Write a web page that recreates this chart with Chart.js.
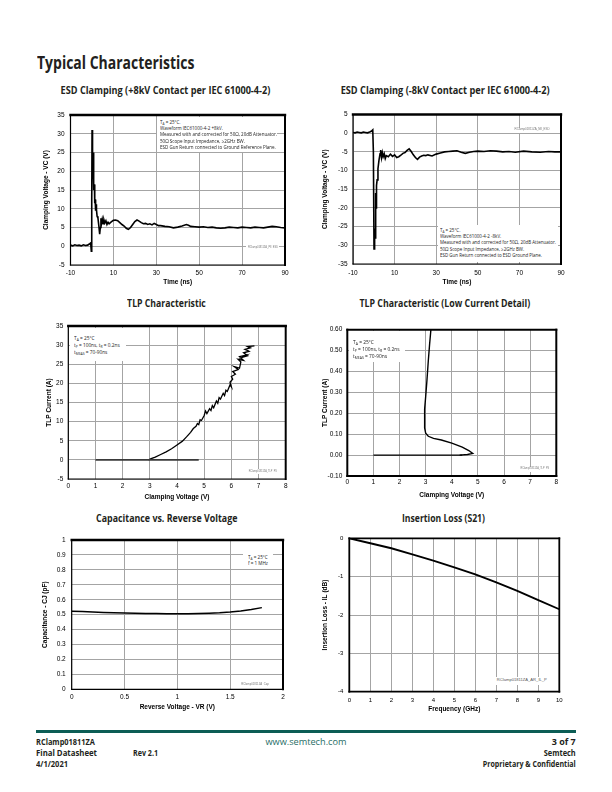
<!DOCTYPE html>
<html><head><meta charset="utf-8">
<script src="https://cdn.jsdelivr.net/npm/chart.js@4.4.0/dist/chart.umd.min.js"></script>
<style>
html,body{margin:0;padding:0;background:#fff;}
#page{position:relative;width:612px;height:792px;overflow:hidden;background:#fff;}
.cw{position:absolute;}
.t{position:absolute;white-space:nowrap;color:#231f20;}
.t sub{vertical-align:-0.3em;line-height:0;}
.box{position:absolute;background:#fff;}
</style></head><body><div id="page"></div>
<script>
// ---------------- DATA ----------------
// ESD clamping +8kV : time (ns) / clamping voltage (V)
const esdPosT = [-10,-9,-8,-7,-6,-5,-4,-3,-2,-1.2,-0.6,-0.3,-0.1,0.05,0.2,0.35,0.5,0.65,0.8,0.95,1.15,1.3,1.5,1.7,1.9,2.1,2.4,2.8,3.2,3.6,3.9,4.2,4.5,4.8,5.2,5.6,6,6.5,7,7.5,8,9,10,11,12,13,14,15,16,17,18,19,20,21,22,23,24,25,26,27,28,29,30,31,32,34,36,38,40,42,44,45,46,48,50,52,54,56,58,60,62,64,66,68,70,72,74,76,78,80,82,84,86,88,90];
const esdPosV = [0.3,0.1,0.4,0.2,0.3,0.1,0.4,0.2,0.3,
  0.6,0.9,-1.3,12,31,22,18,25,17,21,15,
  16.5,11.5,12.5,9.5,11.2,9.8,8,7.5,5.5,3.2,5,7.5,6.2,7.2,6,7,
  6.2,6.8,5.8,6.4,6,
  6.5,6.9,7,6.8,6.3,5.8,5.4,4.8,4.5,5,5.8,6.6,7,6.7,6.3,6,6.1,5.8,6,5.7,6.1,5.8,5.5,5.5,
  5.3,5.2,4.9,5.1,5.4,5.8,
  5.6,5.3,
  5.2,5.1,5.2,5.0,5.1,4.9,4.8,4.9,5.1,5.0,4.9,5.1,5.0,4.9,5.1,5.0,4.9,5.1,5.3,5.2,5.0,4.9];
// ESD clamping -8kV
const esdNegT = [-10,-9,-8,-7,-6,-5,-4,-3,-2,-1.2,-0.5,-0.2,0.1,0.3,0.5,0.7,0.9,1.1,1.3,1.6,2.0,2.5,3.0,3.3,3.7,4.1,4.5,5.0,5.5,6,7,8,9,10,11,12,13,14,15,16,17,18,19,20,21,22,23,24,25,26,28,30,32,34,36,38,40,42,44,46,48,50,53,56,59,62,65,68,72,76,80,84,87,90];
const esdNegV = [0.2,0.1,0.3,0.2,0.1,0.3,0.2,0.1,0.3,
  0.5,0.9,-5,-31,-27,-25.5,-28,-16,-20,-14,-12.5,-9.5,-7.2,-5.5,-4.5,-6.5,-5.2,-6.3,-5.5,-6.8,
  -6,-6.3,-5.6,-6.2,-5.8,-6.5,-6.3,-5.9,-5.4,-5.2,-4.6,-4.2,-4.9,-5.8,-6.5,-7,-6.4,-6.1,-5.9,-6,-5.8,
  -6.1,-5.6,-5.3,-5,-4.9,-4.8,-4.7,-5.1,-5.4,-5.1,-4.9,-4.8,
  -4.9,-4.7,-4.8,-5,-4.9,-5.1,
  -4.8,-5,-5.1,-4.9,-5,-5];
// TLP characteristic : clamping voltage (V) / TLP current (A)
const tlpV = [2.95,3.05,3.2,3.4,3.6,3.8,4.0,4.2,4.35,4.5,4.6,4.7,4.75,4.8,4.85,4.9,5.0,5.05,5.1,5.2,5.25,5.3,5.35,5.45,5.5,5.55,5.6,5.7,5.75,5.8,5.85,5.95,6.0,5.95,6.05,6.0,6.15,6.05,6.25,6.1,6.3,6.35,6.25,6.45,6.3,6.55,6.4,6.6,6.45,6.65,6.5,6.7,6.6,6.85];
const tlpI = [0,0.3,0.7,1.4,2.1,2.9,3.9,4.9,6.0,7.2,8.2,8.8,9.5,9.2,10.5,10.3,11.6,12.8,12.1,13.4,12.9,14.2,13.6,15.4,14.8,16.3,15.9,17.4,16.8,18.2,17.9,19.6,19.1,20.3,21.1,21.8,22.4,23.1,23.6,24.4,24.0,25.6,26.3,26.0,27.0,27.4,26.8,27.2,28.0,28.4,28.9,29.3,29.6,29.8];
const tlpLeakV = [1, 4.8];
const tlpLeakI = [0, 0];
// TLP low current detail
const tlpLowV = [4.3,4.6,4.8,4.65,4.4,4.0,3.6,3.3,3.1,3.0,2.96,2.95,2.97,3.0,3.05,3.1,3.15,3.2];
const tlpLowI = [0,0.003,0.008,0.022,0.038,0.057,0.072,0.08,0.09,0.105,0.13,0.16,0.22,0.28,0.36,0.45,0.53,0.60];
const tlpLowLeakV = [1, 4.4];
const tlpLowLeakI = [0, 0];
// Capacitance vs reverse voltage
const capV = [0,0.1,0.2,0.3,0.4,0.5,0.6,0.7,0.8,0.9,1.0,1.1,1.2,1.3,1.4,1.5,1.6,1.7,1.8];
const capC = [0.523,0.521,0.518,0.515,0.513,0.511,0.509,0.508,0.507,0.506,0.506,0.506,0.507,0.509,0.512,0.517,0.525,0.535,0.547];
// Insertion loss
const ilF  = [0,1,2,3,4,5,6,7,8,9,10];
const ilDb = [0,-0.13,-0.26,-0.42,-0.58,-0.76,-0.94,-1.15,-1.37,-1.61,-1.85];
// axis ranges / ticks
const timeAxis = {min:-10, max:90, step:20};
const esdPosAxis = {min:-5, max:35, step:5};
const esdNegAxis = {min:-35, max:5, step:5};
const tlpVAxis = {min:0, max:8, step:1};
const tlpIAxis = {min:-5, max:35, step:5};
const tlpLowIAxis = {min:-0.1, max:0.6, step:0.1};
const capVAxis = {min:0, max:2, step:0.5};
const capCAxis = {min:0, max:1, step:0.1};
const ilFAxis = {min:0, max:10, step:1};
const ilDbAxis = {min:-4, max:0, step:1};

// ---------------- RENDER ----------------
const page = document.getElementById('page');
const FONT = "'Liberation Sans', Arial, sans-serif";
const GRID = '#a4a4a4';
Chart.defaults.font.family = FONT;
Chart.defaults.color = '#000';
Chart.defaults.animation = false;

const frame = {
  id: 'frame',
  afterDraw(chart, args, o) {
    const {ctx, chartArea: a} = chart;
    ctx.save();
    ctx.strokeStyle = '#000';
    ctx.lineCap = 'square';
    const ln = (x1,y1,x2,y2,w) => { ctx.lineWidth = w; ctx.beginPath(); ctx.moveTo(x1,y1); ctx.lineTo(x2,y2); ctx.stroke(); };
    ln(a.left, a.bottom, a.right, a.bottom, o.b);
    ln(a.left, a.top, a.left, a.bottom, o.l);
    ln(a.left, a.top, a.right, a.top, o.t);
    ln(a.right, a.top, a.right, a.bottom, o.r);
    ctx.restore();
  }
};

function series(xs, ys, color, width) {
  return {data: xs.map((v,i) => ({x: v, y: ys[i]})), showLine: true, pointRadius: 0,
          borderColor: color, borderWidth: width, fill: false, tension: 0};
}

function makeChart(c) {
  const bx = c.box, p = c.plot;
  const div = document.createElement('div');
  div.className = 'cw';
  Object.assign(div.style, {left: bx[0]+'px', top: bx[1]+'px', width: bx[2]+'px', height: bx[3]+'px'});
  const cv = document.createElement('canvas');
  div.appendChild(cv); page.appendChild(div);
  const fs = 6.5, lh = fs * 1.2, tfs = c.tfs || 6.5;
  const yW = p[0] - bx[0];
  const xH = bx[1] + bx[3] - p[3];
  const yTitlePad = c.yTitleX - bx[0] - lh/2;
  const xTitlePad = bx[1] + bx[3] - c.xTitleY - lh/2;
  const xTickPad = c.xTickY - p[3] - tfs*1.2/2;
  new Chart(cv, {
    type: 'scatter',
    data: {datasets: c.datasets},
    options: {
      responsive: true, maintainAspectRatio: false, animation: false,
      layout: {padding: {left: 0, top: p[1]-bx[1], right: bx[0]+bx[2]-p[2], bottom: 0}},
      plugins: {legend: {display: false}, tooltip: {enabled: false}, frame: c.frame},
      scales: {
        x: {type: 'linear', position: 'bottom', min: c.x.min, max: c.x.max,
            ticks: {stepSize: c.x.step, padding: xTickPad, font: {size: tfs}, color: '#000', autoSkip: false, maxRotation: 0, callback: c.x.cb},
            grid: {color: GRID, lineWidth: 1, drawTicks: false},
            border: {display: false},
            title: {display: true, text: c.x.title, color: '#000', font: {size: fs, weight: 'bold'}, padding: {top: 0, bottom: xTitlePad}},
            afterFit: s => { s.height = xH; }},
        y: {type: 'linear', position: 'left', min: c.y.min, max: c.y.max,
            ticks: {stepSize: c.y.step, padding: c.yTickPad, font: {size: tfs}, color: '#000', autoSkip: false, callback: c.y.cb},
            grid: {color: GRID, lineWidth: 1, drawTicks: false},
            border: {display: false},
            title: {display: true, text: c.y.title, color: '#000', font: {size: fs, weight: 'bold'}, padding: {top: yTitlePad, bottom: 0}},
            afterFit: s => { s.width = yW; }}
      }
    },
    plugins: [frame]
  });
}

const F1 = {t: 2.4, r: 2, b: 1.2, l: 1.2};
const F2 = {t: 2, r: 2, b: 2, l: 2};

makeChart({box: [20, 100, 280, 192], plot: [70.5, 115, 285, 265], yTitleX: 46.7, xTitleY: 282, xTickY: 273.5, yTickPad: 6, frame: F1,
  x: Object.assign({title: 'Time (ns)'}, timeAxis),
  y: Object.assign({title: 'Clamping Voltage - VC (V)'}, esdPosAxis),
  datasets: [series(esdPosT, esdPosV, '#000', 1.6)]});

makeChart({box: [310, 100, 280, 192], plot: [353, 114.5, 561, 264], yTitleX: 325.5, xTitleY: 282, xTickY: 273, yTickPad: 5.5, frame: F1,
  x: Object.assign({title: 'Time (ns)'}, timeAxis),
  y: Object.assign({title: 'Clamping Voltage - VC (V)'}, esdNegAxis),
  datasets: [series(esdNegT, esdNegV, '#000', 1.6)]});

makeChart({box: [20, 315, 280, 190], plot: [68.3, 326, 285.7, 479], yTitleX: 49, xTitleY: 497, xTickY: 486.7, yTickPad: 5, frame: F1,
  x: Object.assign({title: 'Clamping Voltage (V)'}, tlpVAxis),
  y: Object.assign({title: 'TLP Current (A)'}, tlpIAxis),
  datasets: [series(tlpLeakV, tlpLeakI, '#3a3a3a', 1.7), series(tlpV, tlpI, '#000', 1.3)]});

makeChart({box: [310, 315, 280, 190], plot: [347.3, 329.7, 556.3, 476], yTitleX: 325, xTitleY: 495, xTickY: 482.3, yTickPad: 5, frame: F2,
  x: Object.assign({title: 'Clamping Voltage (V)'}, tlpVAxis),
  y: Object.assign({title: 'TLP Current (A)', cb: v => (Math.abs(v) < 1e-9 ? 0 : Number(v)).toFixed(2)}, tlpLowIAxis),
  datasets: [series(tlpLowLeakV, tlpLowLeakI, '#000', 1.4), series(tlpLowV, tlpLowI, '#000', 1.4)]});

makeChart({box: [20, 528, 280, 190], plot: [71.7, 540, 283, 689.3], yTitleX: 45.5, xTitleY: 707.7, xTickY: 697.7, yTickPad: 6, frame: F1,
  x: Object.assign({title: 'Reverse Voltage - VR (V)'}, capVAxis),
  y: Object.assign({title: 'Capacitance - CJ (pF)'}, capCAxis),
  datasets: [series(capV, capC, '#000', 1.5)]});

makeChart({box: [310, 528, 280, 190], plot: [349.3, 538.3, 559.3, 691.7], yTitleX: 325, xTitleY: 709, xTickY: 700, yTickPad: 6, tfs: 6, frame: {t: 1.8, r: 1.8, b: 1.8, l: 1.8},
  x: Object.assign({title: 'Frequency (GHz)'}, ilFAxis),
  y: Object.assign({title: 'Insertion Loss - IL (dB)'}, ilDbAxis),
  datasets: [series(ilF, ilDb, '#000', 1.9)]});

// ---------------- TEXT ----------------
function box(x, y, w, h) {
  const d = document.createElement('div');
  d.className = 'box';
  Object.assign(d.style, {left: x+'px', top: y+'px', width: w+'px', height: h+'px'});
  page.appendChild(d);
}
function txt(html, o) {
  const s = document.createElement('div');
  s.className = 't';
  s.innerHTML = html;
  const lh = o.s * 1.3;
  Object.assign(s.style, {fontFamily: o.f || "'Open Sans', sans-serif", fontSize: o.s+'px',
    fontWeight: o.b || '400', lineHeight: lh+'px', color: o.c || '#231f20'});
  s.querySelectorAll('sub').forEach(e => { e.style.fontSize = (o.s*0.7)+'px'; });
  page.appendChild(s);
  const w = s.getBoundingClientRect().width;
  const k = o.k != null ? o.k : (o.w ? o.w / w : 1);
  const a = o.a || 'l';
  s.style.left = (a === 'l' ? o.x : a === 'c' ? o.x - w/2 : o.x - w) + 'px';
  s.style.top = (o.y - lh/2) + 'px';
  s.style.transformOrigin = (a === 'l' ? '0%' : a === 'c' ? '50%' : '100%') + ' 50%';
  s.style.transform = 'scaleX(' + k + ')';
  return {el: s, w: w};
}
function block(lines, x, y0, dy, s, wRef) {
  const items = lines.map((l, i) => txt(l, {x: x, y: y0 + i*dy, s: s, k: 1, c: '#222'}));
  const k = wRef / Math.max.apply(null, items.map(it => it.w));
  items.forEach(it => { it.el.style.transform = 'scaleX(' + k + ')'; });
}

txt('Typical Characteristics', {x: 36.5, y: 63, s: 17, b: '700', w: 157.5});
txt('ESD Clamping (+8kV Contact per IEC 61000-4-2)', {x: 165.8, y: 91, s: 10.5, b: '700', w: 209.7, a: 'c'});
txt('ESD Clamping (-8kV Contact per IEC 61000-4-2)', {x: 445.5, y: 91, s: 10.5, b: '700', w: 209, a: 'c'});
txt('TLP Characteristic', {x: 166.7, y: 304.3, s: 10.5, b: '700', w: 78.7, a: 'c'});
txt('TLP Characteristic (Low Current Detail)', {x: 445.3, y: 304, s: 10.5, b: '700', w: 170.7, a: 'c'});
txt('Capacitance vs. Reverse Voltage', {x: 166.7, y: 519, s: 10.5, b: '700', w: 141.3, a: 'c'});
txt('Insertion Loss (S21)', {x: 443.8, y: 519, s: 10.5, b: '700', w: 83, a: 'c'});

// annotation boxes
box(157, 117, 120, 35);
block(['T<sub>A</sub> = 25°C.', 'Waveform IEC61000-4-2 +8kV.', 'Measured with and corrected for 50Ω, 20dB Attenuator.',
       '50Ω Scope Input Impedance, ≥2GHz BW.', 'ESD Gun Return connected to Ground Reference Plane.'], 159.5, 122.7, 6.33, 4.5, 117);
box(438, 225, 120, 37);
block(['T<sub>A</sub> = 25°C.', 'Waveform IEC61000-4-2 -8kV.', 'Measured with and corrected for 50Ω, 20dB Attenuator.',
       '50Ω Scope Input Impedance, ≥2GHz BW.', 'ESD Gun Return connected to ESD Ground Plane.'], 440, 230.7, 6.33, 4.5, 116);
box(69.5, 327.5, 56, 33);
block(['T<sub>A</sub> = 25°C', 't<sub>P</sub> = 100ns, t<sub>R</sub> = 0.2ns', 't<sub>MEAS</sub> = 70-90ns'], 74, 338.3, 7, 4.8, 45.7);
box(348.5, 331, 56, 31);
block(['T<sub>A</sub> = 25°C', 't<sub>P</sub> = 100ns, t<sub>R</sub> = 0.2ns', 't<sub>MEAS</sub> = 70-90ns'], 353, 341.7, 7.2, 4.8, 46.7);
box(243, 550.5, 30, 17);
block(['T<sub>A</sub> = 25°C', 'f = 1 MHz'], 248.3, 556.7, 5.8, 4.6, 20);

// chart id tags
box(246, 245.5, 33, 5); txt('RClamp01811ZA_P8_ESD', {x: 262.7, y: 248.3, s: 3, w: 30, a: 'c', c: '#777', f: FONT});
box(513, 127.5, 39, 5); txt('RClamp01811ZA_N8_ESD', {x: 532.5, y: 130, s: 3, w: 35, a: 'c', c: '#777', f: FONT});
box(247, 469, 32, 5); txt('RClamp01811ZA_TLP_PS', {x: 263, y: 471.7, s: 3, w: 28, a: 'c', c: '#777', f: FONT});
box(519, 466.5, 32, 5); txt('RClamp01811ZA_TLP_PS', {x: 535, y: 469, s: 3, w: 28.6, a: 'c', c: '#777', f: FONT});
box(239, 682.5, 31, 5); txt('RClamp01811ZA_Cap', {x: 254.5, y: 685, s: 3, w: 27.6, a: 'c', c: '#777', f: FONT});
box(495, 676.5, 55, 8.5); txt('RClamp01811ZA_AR_IL_P', {x: 521.7, y: 680.7, s: 3.6, w: 50, a: 'c', c: '#555', f: FONT});

// footer
const bar = document.createElement('div');
Object.assign(bar.style, {position: 'absolute', left: '36px', top: '730px', width: '540px', height: '2.6px', background: '#0c5d55'});
page.appendChild(bar);
txt('RClamp01811ZA', {x: 36, y: 742, s: 8.5, b: '700', w: 59});
txt('Final Datasheet', {x: 36, y: 752.6, s: 8.5, b: '700', w: 61});
txt('4/1/2021', {x: 36, y: 763.2, s: 8.5, b: '700', w: 32});
txt('Rev 2.1', {x: 133, y: 752.6, s: 8.5, b: '700', w: 25});
txt('www.semtech.com', {x: 305.5, y: 742, s: 9.5, w: 81, a: 'c', c: '#1f6d66'});
txt('3 of 7', {x: 576, y: 742, s: 8.5, b: '700', w: 24, a: 'r'});
txt('Semtech', {x: 576, y: 752.6, s: 8.5, b: '700', w: 32, a: 'r'});
txt('Proprietary &amp; Confidential', {x: 576, y: 763.2, s: 8.5, b: '700', w: 93, a: 'r'});
</script>
</body></html>
